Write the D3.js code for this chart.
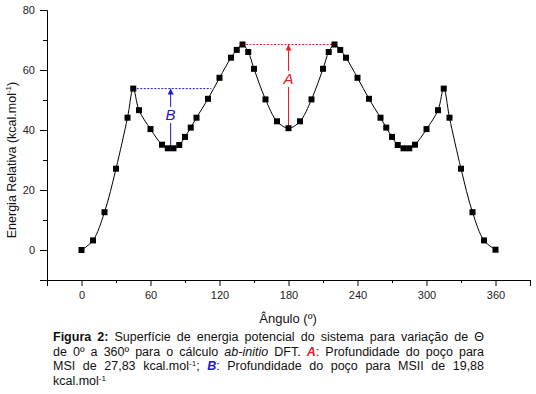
<!DOCTYPE html>
<html>
<head>
<meta charset="utf-8">
<script src="https://cdn.jsdelivr.net/npm/d3@7"></script>
<style>
  body { margin: 0; background: #fff; font-family: "Liberation Sans", Arial, sans-serif; }
  #wrap { position: relative; width: 536px; height: 394px; overflow: hidden; }
  #caption { position: absolute; left: 53px; top: 330px; width: 431px; font-size: 12.5px; line-height: 14.7px; color: #111; }
  #caption span.ln { display: block; text-align: justify; text-align-last: justify; white-space: nowrap; }
  #caption span.last { text-align: left; text-align-last: left; }
  #caption sup { font-size: 8px; vertical-align: 4px; line-height: 0; }
</style>
</head>
<body>
<div id="wrap">
  <svg id="chart" width="536" height="394"></svg>
  <div id="caption">
    <span class="ln"><b>Figura 2:</b> Superfície de energia potencial do sistema para variação de Θ</span>
    <span class="ln">de 0º a 360º para o cálculo <i>ab-initio</i> DFT. <b style="color:#e5202a"><i>A</i></b>: Profundidade do poço para</span>
    <span class="ln">MSI de 27,83 kcal.mol<sup>-1</sup>; <b style="color:#1c1cc4"><i>B</i></b>: Profundidade do poço para MSII de 19,88</span>
    <span class="ln last">kcal.mol<sup>-1</sup></span>
  </div>
</div>
<script>
// angle (degrees) and relative energy (kcal/mol)
const angles = [0, 10, 20, 30, 40, 45, 50, 60, 70, 75, 80, 85, 90, 95, 100, 110, 120, 130, 135, 140, 145, 150, 160, 170, 180,
  190, 200, 210, 215, 220, 225, 230, 240, 250, 260, 265, 270, 275, 280, 285, 290, 300, 310, 315, 320, 330, 340, 350, 360]
const energies = [0, 3.2, 12.6, 27.1, 44.1, 53.8, 46.6, 40.3, 35.1, 33.9, 33.9, 35.0, 37.7, 40.8, 44.1, 50.4, 57.4, 64.1, 66.7, 68.5, 66.0, 60.4, 50.2, 42.9, 40.6,
  42.9, 50.2, 60.4, 66.0, 68.5, 66.7, 64.1, 57.4, 50.4, 44.1, 40.8, 37.7, 35.0, 33.9, 33.9, 35.1, 40.3, 46.6, 53.8, 44.1, 27.1, 12.6, 3.2, 0.1]

// well depths: label, colour, x of arrow, bottom, top, dashed line start/end
const wellLabels = ["A", "B"]
const wellColors = ["#e5202a", "#1c1cc4"]
const wellArrowX = [180, 77.5]
const wellBottom = [40.6, 33.9]
const wellTop = [68.5, 53.8]
const wellLineFrom = [140, 45]
const wellLineTo = [220, 113]
const wellLabelY = [57, 45]

const xMajor = [0, 60, 120, 180, 240, 300, 360]
const xMinor = [-30, 30, 90, 150, 210, 270, 330, 390]
const yMajor = [0, 20, 40, 60, 80]
const yMinor = [-10, 10, 30, 50, 70]

const svg = d3.select("#chart")
const x = d3.scaleLinear().domain([-30, 390]).range([47, 530])
const y = d3.scaleLinear().domain([-10, 80]).range([280, 10])

const font = "'Liberation Sans', Arial, sans-serif"

// axes
svg.append("g")
  .attr("transform", "translate(0,280)")
  .call(d3.axisBottom(x).tickValues(xMajor).tickSize(6).tickPadding(5))
  .call(g => g.selectAll("text").style("font-family", font).style("font-size", "11px").attr("fill", "#222"))
svg.append("g")
  .attr("transform", "translate(0,280)")
  .call(d3.axisBottom(x).tickValues(xMinor).tickSize(3).tickFormat(""))
  .call(g => g.select(".domain").remove())
svg.append("g")
  .attr("transform", "translate(47,0)")
  .call(d3.axisLeft(y).tickValues(yMajor).tickSize(7).tickPadding(5))
  .call(g => g.selectAll("text").style("font-family", font).style("font-size", "11px").attr("fill", "#222"))
svg.append("g")
  .attr("transform", "translate(47,0)")
  .call(d3.axisLeft(y).tickValues(yMinor).tickSize(4).tickFormat(""))
  .call(g => g.select(".domain").remove())
svg.selectAll(".domain").attr("stroke", "#000")

// axis titles
const yTitle = svg.append("text")
  .attr("transform", "translate(16,160) rotate(-90)")
  .attr("text-anchor", "middle")
  .style("font-family", font).style("font-size", "12.5px").attr("fill", "#111")
yTitle.append("tspan").text("Energia Relativa (kcal.mol")
yTitle.append("tspan").attr("dy", -5).style("font-size", "8px").text("-1")
yTitle.append("tspan").attr("dy", 5).text(")")

svg.append("text")
  .attr("x", 288).attr("y", 323)
  .attr("text-anchor", "middle")
  .style("font-family", font).style("font-size", "13px").attr("fill", "#111")
  .text("Ângulo (º)")

const data = angles.map((a, i) => ({ a, e: energies[i] }))

// curve
svg.append("path")
  .datum(data)
  .attr("fill", "none")
  .attr("stroke", "#000")
  .attr("stroke-width", 1)
  .attr("d", d3.line().x(d => x(d.a)).y(d => y(d.e)).curve(d3.curveCatmullRom.alpha(0.5)))

// wells (dashed levels + arrows)
const defs = svg.append("defs")
wellLabels.forEach((lab, i) => {
  const c = wellColors[i]
  defs.append("marker")
    .attr("id", "arr" + i)
    .attr("viewBox", "0 0 10 10")
    .attr("refX", 10).attr("refY", 5)
    .attr("markerWidth", 6).attr("markerHeight", 6)
    .attr("markerUnits", "userSpaceOnUse")
    .attr("orient", "auto")
    .append("path").attr("d", "M0,0L10,5L0,10z").attr("fill", c)

  svg.append("line")
    .attr("x1", x(wellLineFrom[i])).attr("x2", x(wellLineTo[i]))
    .attr("y1", y(wellTop[i])).attr("y2", y(wellTop[i]))
    .attr("stroke", c).attr("stroke-width", 1).attr("stroke-dasharray", "2,1.5")

  svg.append("line")
    .attr("x1", x(wellArrowX[i])).attr("x2", x(wellArrowX[i]))
    .attr("y1", y(wellBottom[i])).attr("y2", y(wellTop[i]))
    .attr("stroke", c).attr("stroke-width", 1)
    .attr("marker-end", `url(#arr${i})`)

  svg.append("rect")
    .attr("x", x(wellArrowX[i]) - 6).attr("y", y(wellLabelY[i]) - 8)
    .attr("width", 12).attr("height", 16)
    .attr("fill", "#fff")

  svg.append("text")
    .attr("x", x(wellArrowX[i])).attr("y", y(wellLabelY[i]))
    .attr("dy", "0.36em")
    .attr("text-anchor", "middle")
    .style("font-family", font).style("font-size", "15px").style("font-style", "italic")
    .attr("fill", c)
    .text(lab)
})

// markers
svg.selectAll(".pt")
  .data(data)
  .enter()
  .append("rect")
  .attr("class", "pt")
  .attr("x", d => x(d.a) - 3)
  .attr("y", d => y(d.e) - 3)
  .attr("width", 6)
  .attr("height", 6)
  .attr("fill", "#000")
</script>
</body>
</html>
